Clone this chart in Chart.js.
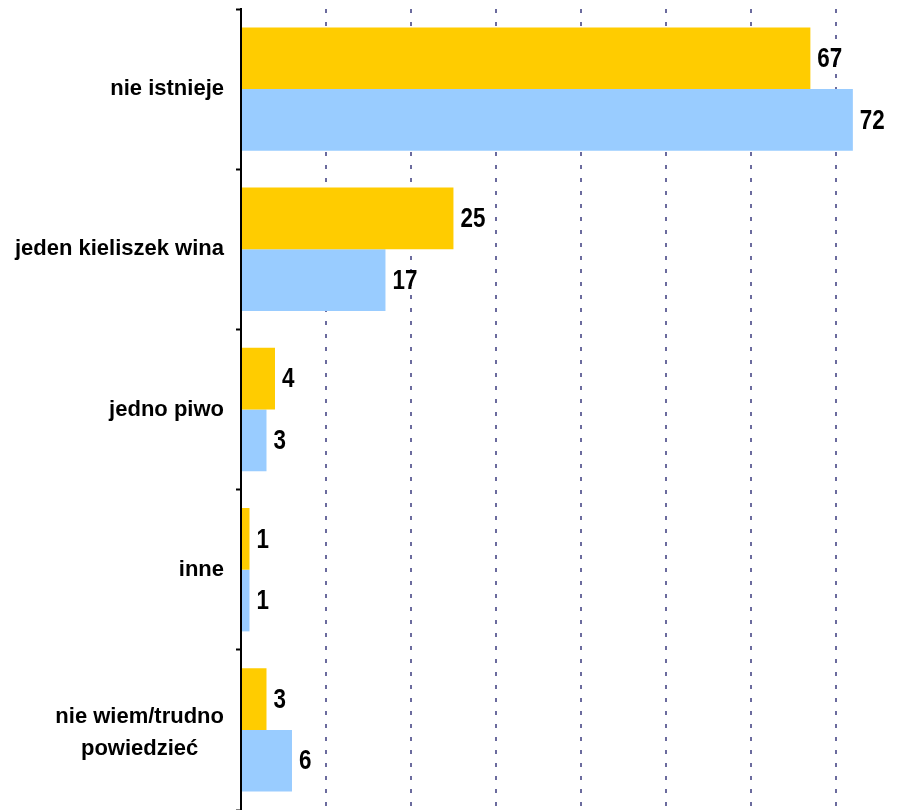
<!DOCTYPE html>
<html>
<head>
<meta charset="utf-8">
<script src="https://cdn.jsdelivr.net/npm/chart.js@4"></script>
<style>
  html, body { margin: 0; padding: 0; background: #fff; }
  #wrap { width: 903px; height: 810px; position: relative; }
</style>
</head>
<body>
<div id="wrap"><canvas id="chart"></canvas></div>
<script>
// Data
const categories = ['nie istnieje', 'jeden kieliszek wina', 'jedno piwo', 'inne', ['nie wiem/trudno', 'powiedzieć']];
const seriesA = [67, 25, 4, 1, 3];
const seriesB = [72, 17, 3, 1, 6];
const gridSteps = [10, 20, 30, 40, 50, 60, 70];

// category labels, multi-line ones centred on themselves (right aligned block)
const categoryLabels = {
    id: 'categoryLabels',
    afterDraw(chart) {
        const ctx = chart.ctx;
        const y = chart.scales.y;
        const right = chart.chartArea.left - 17;
        ctx.save();
        ctx.font = 'bold 22px "Liberation Sans", Arial, sans-serif';
        ctx.fillStyle = '#000';
        ctx.textAlign = 'center';
        ctx.textBaseline = 'middle';
        categories.forEach((lab, i) => {
            const lines = Array.isArray(lab) ? lab : [lab];
            const w = Math.max(...lines.map(l => ctx.measureText(l).width));
            const cx = right - w / 2;
            const yc = y.getPixelForValue(i) + (lines.length > 1 ? 3 : 0);
            const lh = 32;
            lines.forEach((l, k) => {
                ctx.fillText(l, cx, yc + (k - (lines.length - 1) / 2) * lh);
            });
        });
        ctx.restore();
    }
};

// numbers at the end of each bar (squeezed to look like a narrow face)
const valueLabels = {
    id: 'valueLabels',
    afterDatasetsDraw(chart) {
        const ctx = chart.ctx;
        const sx = 0.8;
        ctx.save();
        ctx.font = 'bold 28px "Liberation Sans Narrow", "Liberation Sans", Arial, sans-serif';
        ctx.fillStyle = '#000';
        ctx.textAlign = 'left';
        ctx.textBaseline = 'middle';
        chart.data.datasets.forEach((ds, di) => {
            chart.getDatasetMeta(di).data.forEach((bar, i) => {
                ctx.save();
                ctx.translate(bar.x + 7, bar.y + 1);
                ctx.scale(sx, 1);
                ctx.fillText(String(ds.data[i]), 0, 0);
                ctx.restore();
            });
        });
        ctx.restore();
    }
};

new Chart(document.getElementById('chart'), {
    type: 'bar',
    data: {
        labels: categories,
        datasets: [
            { data: seriesA, backgroundColor: '#FFCC00', borderWidth: 0 },
            { data: seriesB, backgroundColor: '#99CCFF', borderWidth: 0 }
        ]
    },
    options: {
        indexAxis: 'y',
        responsive: true,
        maintainAspectRatio: false,
        animation: false,
        layout: { padding: { top: 9, right: 0, bottom: 0, left: 0 } },
        categoryPercentage: 0.77,
        barPercentage: 1.0,
        plugins: { legend: { display: false }, tooltip: { enabled: false } },
        scales: {
            x: {
                min: 0,
                max: 77.9,
                ticks: { display: false, stepSize: 10 },
                grid: {
                    drawTicks: false,
                    lineWidth: 2,
                    color: c => gridSteps.includes(c.tick && c.tick.value) ? '#6B6B9E' : 'rgba(0,0,0,0)'
                },
                border: { display: false, dash: [4, 9] }
            },
            y: {
                afterFit: s => { s.width = 241; },
                ticks: { display: false },
                grid: {
                    drawOnChartArea: false,
                    drawTicks: true,
                    tickLength: 5,
                    tickWidth: 2,
                    tickColor: '#000',
                    offset: true
                },
                border: { display: true, color: '#000', width: 2 }
            }
        }
    },
    plugins: [categoryLabels, valueLabels]
});
</script>
</body>
</html>
